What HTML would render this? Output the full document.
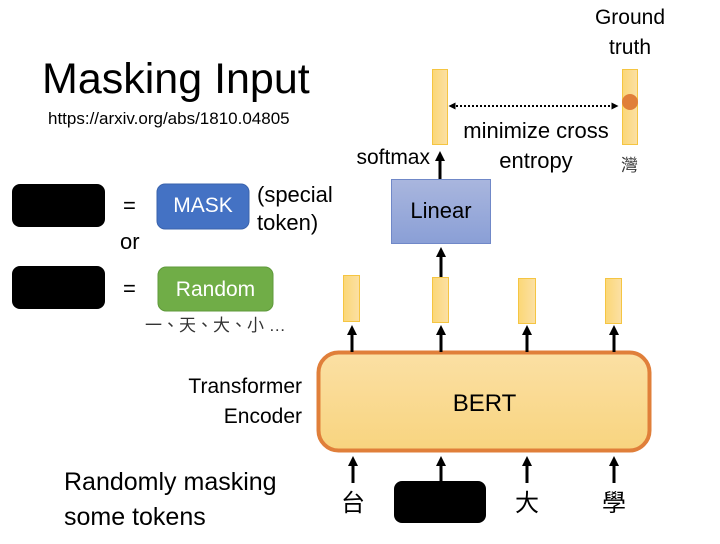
<!DOCTYPE html><html><head><meta charset="utf-8"><style>
body{margin:0;width:720px;height:544px;background:#fff;position:relative;overflow:hidden;font-family:"Liberation Sans","Noto Sans CJK TC",sans-serif;color:#000}
.t{position:absolute;white-space:nowrap;line-height:1}
</style></head><body>
<svg width="720" height="544" style="position:absolute;left:0;top:0">
<defs>
<marker id="a" markerWidth="10" markerHeight="10" refX="5" refY="5" orient="auto" markerUnits="userSpaceOnUse"><path d="M0,0 L10,5 L0,10 z" fill="#000"/></marker>
<marker id="d" markerWidth="7" markerHeight="7" refX="3.5" refY="3.5" orient="auto-start-reverse" markerUnits="userSpaceOnUse"><path d="M0,0 L7,3.5 L0,7 z" fill="#000"/></marker>
<linearGradient id="y" x1="0" x2="1"><stop offset="0" stop-color="#fbd776"/><stop offset="1" stop-color="#fbe0a5"/></linearGradient>
<linearGradient id="bg" x1="0" y1="0" x2="0" y2="1"><stop offset="0" stop-color="#fbe0a4"/><stop offset="1" stop-color="#f8d47f"/></linearGradient>
<linearGradient id="lg" x1="0" y1="0" x2="0" y2="1"><stop offset="0" stop-color="#a9b6de"/><stop offset="1" stop-color="#8a9fd6"/></linearGradient>
</defs>
<rect x="12" y="184" width="93" height="43" rx="8" fill="#000"/>
<rect x="12" y="266" width="93" height="43" rx="8" fill="#000"/>
<rect x="157" y="184" width="92" height="45" rx="8" fill="#4472c4" stroke="#3a63ad"/>
<rect x="158" y="267" width="115" height="44" rx="8" fill="#70ad47" stroke="#5f9a3b"/>
<rect x="318.5" y="352.5" width="331" height="98" rx="20" fill="url(#bg)" stroke="#e07f3a" stroke-width="4"/>
<rect x="343.5" y="275.5" width="16" height="46" fill="url(#y)" stroke="#f5c542"/>
<rect x="432.5" y="277.5" width="16" height="45" fill="url(#y)" stroke="#f5c542"/>
<rect x="518.5" y="278.5" width="17" height="45" fill="url(#y)" stroke="#f5c542"/>
<rect x="605.5" y="278.5" width="16" height="45" fill="url(#y)" stroke="#f5c542"/>
<rect x="432.5" y="69.5" width="15" height="75" fill="url(#y)" stroke="#f5c542"/>
<rect x="622.5" y="69.5" width="15" height="75" fill="url(#y)" stroke="#f5c542"/>
<circle cx="630" cy="102" r="8" fill="#e07f3a"/>
<rect x="391.5" y="179.5" width="99" height="64" fill="url(#lg)" stroke="#7088c8"/>
<rect x="394" y="481" width="92" height="42" rx="8" fill="#000"/>
<g stroke="#000" stroke-width="3">
<line x1="352" y1="352" x2="352" y2="330" marker-end="url(#a)"/>
<line x1="441" y1="352" x2="441" y2="330" marker-end="url(#a)"/>
<line x1="527" y1="352" x2="527" y2="330" marker-end="url(#a)"/>
<line x1="614" y1="352" x2="614" y2="330" marker-end="url(#a)"/>
<line x1="353" y1="483" x2="353" y2="461" marker-end="url(#a)"/>
<line x1="441" y1="483" x2="441" y2="461" marker-end="url(#a)"/>
<line x1="527" y1="483" x2="527" y2="461" marker-end="url(#a)"/>
<line x1="614" y1="483" x2="614" y2="461" marker-end="url(#a)"/>
<line x1="441" y1="277" x2="441" y2="252" marker-end="url(#a)"/>
<line x1="440" y1="179" x2="440" y2="156" marker-end="url(#a)"/>
</g>
<line x1="452" y1="106" x2="615" y2="106" stroke="#000" stroke-width="2" stroke-dasharray="2,2" marker-start="url(#d)" marker-end="url(#d)"/>
</svg>
<div class="t" style="left:42px;top:58px;font-size:43px">Masking Input</div>
<div class="t" style="left:48px;top:110px;font-size:17px">https://arxiv.org/abs/1810.04805</div>
<div class="t" style="left:123px;top:195px;font-size:22px">=</div>
<div class="t" style="left:120px;top:231px;font-size:22px">or</div>
<div class="t" style="left:123px;top:278px;font-size:22px">=</div>
<div class="t" style="left:157px;top:195px;width:92px;text-align:center;font-size:21px;color:#fff">MASK</div>
<div class="t" style="left:158px;top:279px;width:115px;text-align:center;font-size:21px;color:#fff">Random</div>
<div class="t" style="left:257px;top:181px;font-size:22px;line-height:28px">(special<br>token)</div>
<div class="t" style="left:145px;top:317px;font-size:17px;color:#333">一、天、大、小 …</div>
<div class="t" style="left:120px;top:372px;width:182px;text-align:right;font-size:21px;line-height:30px">Transformer<br>Encoder</div>
<div class="t" style="left:318px;top:392px;width:333px;text-align:center;font-size:24px">BERT</div>
<div class="t" style="left:391px;top:200px;width:100px;text-align:center;font-size:22px">Linear</div>
<div class="t" style="left:320px;top:147px;width:110px;text-align:right;font-size:21px">softmax</div>
<div class="t" style="left:436px;top:116px;width:200px;text-align:center;font-size:22px;line-height:30px">minimize cross<br>entropy</div>
<div class="t" style="left:560px;top:3px;width:140px;text-align:center;font-size:21px;line-height:30px">Ground<br>truth</div>
<div class="t" style="left:621px;top:157px;font-size:17px;color:#333">灣</div>
<div class="t" style="left:341px;top:492px;font-size:24px">台</div>
<div class="t" style="left:515px;top:492px;font-size:24px">大</div>
<div class="t" style="left:602px;top:492px;font-size:24px">學</div>
<div class="t" style="left:64px;top:465px;font-size:25px;line-height:35px">Randomly masking<br>some tokens</div>
</body></html>
